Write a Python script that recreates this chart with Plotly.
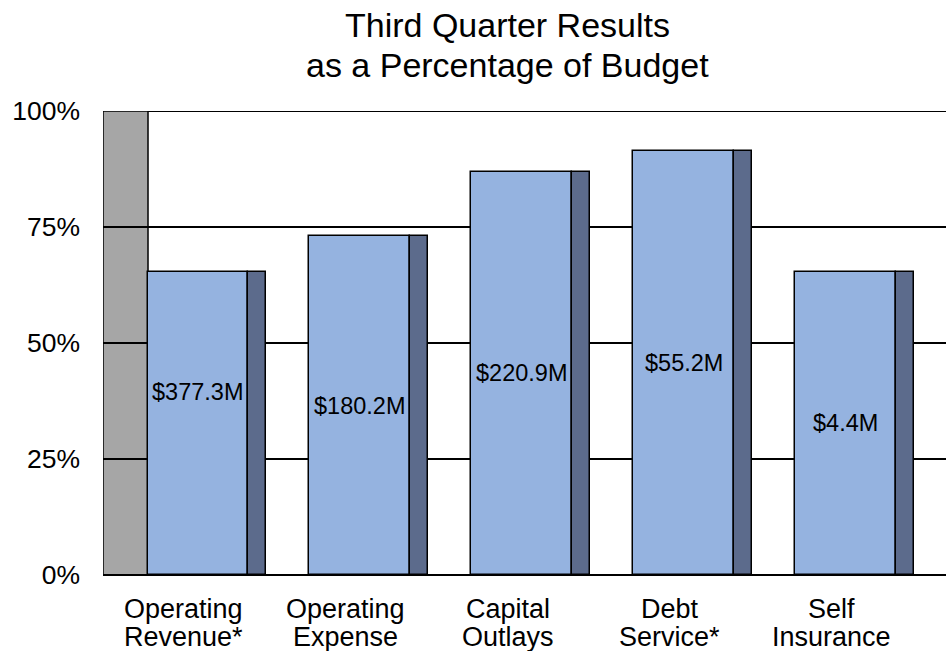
import plotly.graph_objects as go

# Budget categories (two-line labels), percent of budget used, and dollar amounts
cat_line1 = ["Operating", "Operating", "Capital", "Debt", "Self"]
cat_line2 = ["Revenue*", "Expense", "Outlays", "Service*", "Insurance"]
pct_of_budget = [65.3, 73.0, 86.9, 91.3, 65.4]
amount_labels = ["$377.3M", "$180.2M", "$220.9M", "$55.2M", "$4.4M"]
y_ticks = [0, 25, 50, 75, 100]
y_tick_text = ["0%", "25%", "50%", "75%", "100%"]
title_lines = ["Third Quarter Results", "as a Percentage of Budget"]

# ---- styling / geometry of the pseudo-3D look ----
FONT = "Liberation Sans, Arial, sans-serif"
FRONT = "#95B3E0"
SIDE = "#5C6B8C"
WALL = "#A6A6A6"
FRONT_OFFSET, FRONT_WIDTH = -0.225, 0.622
SIDE_OFFSET, SIDE_WIDTH = 0.397, 0.112
WALL_DEPTH = 0.278
LABEL_NUDGE = {0: 6.8}  # first value label sits a bit higher than mid-bar

xs = list(range(len(pct_of_budget)))

fig = go.Figure()

# front faces
fig.add_trace(go.Bar(
    x=xs, y=pct_of_budget, offset=FRONT_OFFSET, width=FRONT_WIDTH,
    marker=dict(color=FRONT, line=dict(color="black", width=1.5)),
    hoverinfo="skip", showlegend=False,
))
# side faces
fig.add_trace(go.Bar(
    x=xs, y=pct_of_budget, offset=SIDE_OFFSET, width=SIDE_WIDTH,
    marker=dict(color=SIDE, line=dict(color="black", width=1.5)),
    hoverinfo="skip", showlegend=False,
))

# grey side wall behind the gridlines
fig.add_shape(
    type="rect", xref="x", yref="y",
    x0=-0.5, x1=-0.5 + WALL_DEPTH, y0=0, y1=100,
    fillcolor=WALL, line=dict(color="black", width=1.5), layer="below",
)
# top edge of the back wall at 100%
fig.add_shape(
    type="line", xref="paper", yref="y",
    x0=0, x1=1, y0=y_ticks[-1], y1=y_ticks[-1],
    line=dict(color="black", width=2), layer="below",
)

annotations = []
# dollar amounts on the bar faces
for i, (v, lab) in enumerate(zip(pct_of_budget, amount_labels)):
    annotations.append(dict(
        x=i + FRONT_OFFSET + FRONT_WIDTH / 2, y=v / 2 + LABEL_NUDGE.get(i, 0),
        xref="x", yref="y", text=lab, showarrow=False,
        font=dict(family=FONT, size=23.5, color="black"),
        xanchor="center", yanchor="middle",
    ))
# category labels, two tight lines each
for i, (l1, l2) in enumerate(zip(cat_line1, cat_line2)):
    for txt, shift in ((l1, -34), (l2, -62)):
        annotations.append(dict(
            x=i, y=0, xref="x", yref="paper", text=txt, showarrow=False,
            font=dict(family=FONT, size=27, color="black"),
            xanchor="center", yanchor="middle", yshift=shift,
        ))
# two-line chart title
for txt, shift in zip(title_lines, (86, 46)):
    annotations.append(dict(
        x=(507 - 103) / 843, y=1, xref="paper", yref="paper",
        text=txt, showarrow=False, xanchor="center", yanchor="middle",
        yshift=shift, font=dict(family=FONT, size=34, color="black"),
    ))

fig.update_layout(
    width=946, height=651,
    margin=dict(l=103, r=0, t=111, b=76),
    paper_bgcolor="white", plot_bgcolor="white",
    barmode="overlay",
    bargap=0,
    font=dict(family=FONT, color="black"),
    xaxis=dict(
        range=[-0.5, 4.707], showticklabels=False, showgrid=False,
        zeroline=False, showline=False, fixedrange=True,
    ),
    yaxis=dict(
        range=[0, 100], tickvals=y_ticks, ticktext=y_tick_text,
        showgrid=True, gridcolor="black", gridwidth=2,
        zeroline=True, zerolinecolor="black", zerolinewidth=2,
        showline=False, ticks="", ticklabelstandoff=22,
        tickfont=dict(family=FONT, size=26.5, color="black"),
        fixedrange=True,
    ),
    annotations=annotations,
)

fig.write_html("out.html", config={"displayModeBar": False})
